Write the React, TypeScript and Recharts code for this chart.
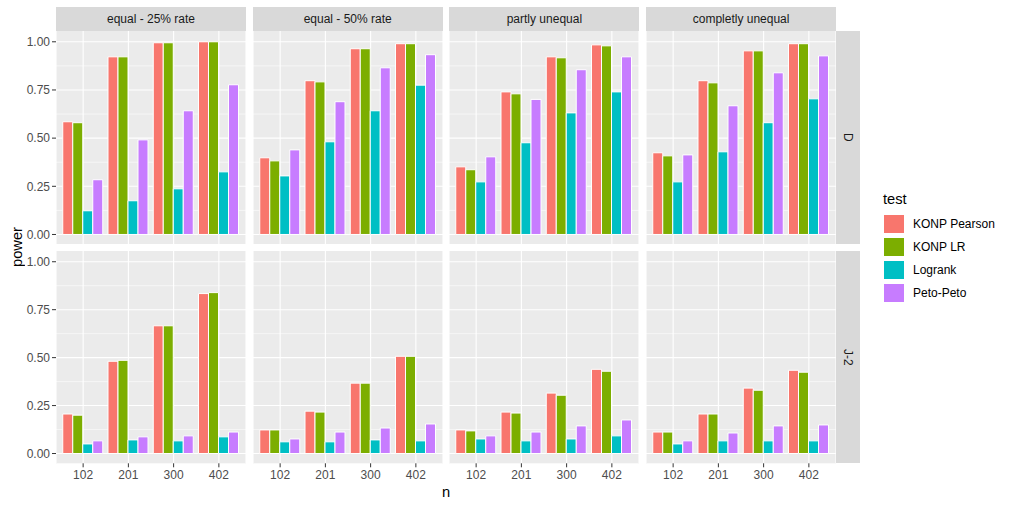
import { BarChart, Bar, XAxis, YAxis, CartesianGrid } from 'recharts';

const nValues = ['102', '201', '300', '402'];
const scenarios = ['equal - 25% rate', 'equal - 50% rate', 'partly unequal', 'completly unequal'];
const distributions = ['D', 'J-2'];
const tests = ['KONP Pearson', 'KONP LR', 'Logrank', 'Peto-Peto'];
const testColors = ['#F8766D', '#7CAE00', '#00BFC4', '#C77CFF'];
const majorTicks = [0, 0.25, 0.5, 0.75, 1];
const minorTicks = [0.125, 0.375, 0.625, 0.875];

// power by scenario (rows) and n (columns), distribution D
const pearsonD = [
  [0.585, 0.922, 0.995, 1.0],
  [0.398, 0.798, 0.964, 0.99],
  [0.351, 0.74, 0.922, 0.984],
  [0.424, 0.798, 0.953, 0.99],
];
const lrD = [
  [0.58, 0.922, 0.995, 1.0],
  [0.382, 0.792, 0.964, 0.99],
  [0.336, 0.73, 0.917, 0.979],
  [0.408, 0.787, 0.953, 0.99],
];
const logrankD = [
  [0.123, 0.175, 0.237, 0.325],
  [0.304, 0.481, 0.642, 0.775],
  [0.273, 0.476, 0.631, 0.74],
  [0.273, 0.429, 0.58, 0.704],
];
const petoD = [
  [0.284, 0.491, 0.642, 0.777],
  [0.439, 0.689, 0.865, 0.933],
  [0.403, 0.701, 0.855, 0.922],
  [0.413, 0.668, 0.839, 0.927],
];

// distribution J-2
const pearsonJ2 = [
  [0.206, 0.481, 0.666, 0.834],
  [0.123, 0.221, 0.367, 0.507],
  [0.123, 0.216, 0.315, 0.439],
  [0.112, 0.206, 0.341, 0.434],
];
const lrJ2 = [
  [0.2, 0.486, 0.666, 0.839],
  [0.123, 0.216, 0.367, 0.507],
  [0.118, 0.211, 0.304, 0.429],
  [0.112, 0.206, 0.33, 0.424],
];
const logrankJ2 = [
  [0.05, 0.071, 0.066, 0.087],
  [0.061, 0.061, 0.071, 0.066],
  [0.076, 0.066, 0.076, 0.092],
  [0.05, 0.066, 0.066, 0.066],
];
const petoJ2 = [
  [0.066, 0.087, 0.092, 0.112],
  [0.076, 0.112, 0.133, 0.154],
  [0.092, 0.112, 0.144, 0.175],
  [0.066, 0.107, 0.144, 0.149],
];

const seriesByRow = [
  [pearsonD, lrD, logrankD, petoD],
  [pearsonJ2, lrJ2, logrankJ2, petoJ2],
];

// layout
const PANEL_LEFT = 56;
const PANEL_STEP = 196.7;
const PANEL_W = 190;
const ROW_TOP = [31, 250.7];
const ROW_H = [213.3, 212.3];
const Y_DOMAIN: [number, number] = [-0.051, 1.056];
const STRIP_H = 24;
const Y_AXIS_W = 40;
const X_AXIS_H = 24;
const FONT = '"Liberation Sans", Arial, sans-serif';

function panelData(row: number, col: number) {
  return nValues.map((n, i) => {
    const d: Record<string, string | number> = { n };
    tests.forEach((t, k) => {
      d[t] = seriesByRow[row][k][col][i];
    });
    return d;
  });
}

function Panel({ row, col }: { row: number; col: number }) {
  const showY = col === 0;
  const showX = row === 1;
  const w = PANEL_W + (showY ? Y_AXIS_W : 0);
  const h = ROW_H[row] + (showX ? X_AXIS_H : 0);
  const left = PANEL_LEFT + col * PANEL_STEP - (showY ? Y_AXIS_W : 0);
  return (
    <div style={{ position: 'absolute', left, top: ROW_TOP[row] }}>
      <BarChart
        width={w}
        height={h}
        data={panelData(row, col)}
        margin={{ top: 0, right: 0, bottom: 0, left: 0 }}
        barCategoryGap="5%"
        barGap={0}
      >
        <CartesianGrid fill="#EBEBEB" stroke="#FFFFFF" strokeWidth={0.55} horizontalValues={minorTicks} vertical={false} />
        <CartesianGrid stroke="#FFFFFF" strokeWidth={1.1} horizontalValues={majorTicks} />
        <XAxis
          dataKey="n"
          type="category"
          hide={!showX}
          height={X_AXIS_H}
          padding={{ left: 4.5, right: 4.5 }}
          axisLine={false}
          tickLine={{ stroke: '#333333' }}
          tickSize={4}
          tickMargin={3}
          interval={0}
          tick={{ fill: '#4D4D4D', fontSize: 12 }}
        />
        <YAxis
          type="number"
          domain={Y_DOMAIN}
          allowDataOverflow
          ticks={majorTicks}
          interval={0}
          hide={!showY}
          width={Y_AXIS_W}
          axisLine={false}
          tickLine={{ stroke: '#333333' }}
          tickSize={4}
          tickMargin={2}
          tickFormatter={(v: number) => v.toFixed(2)}
          tick={{ fill: '#4D4D4D', fontSize: 12 }}
        />
        {tests.map((t, k) => (
          <Bar key={t} dataKey={t} fill={testColors[k]} stroke="#FFFFFF" strokeWidth={1} isAnimationActive={false} />
        ))}
      </BarChart>
    </div>
  );
}

export default function App() {
  return (
    <div
      style={{
        position: 'absolute',
        left: 0,
        top: 0,
        width: 1012,
        height: 509,
        background: '#FFFFFF',
        fontFamily: FONT,
      }}
    >
      {scenarios.map((s, col) => (
        <div
          key={s}
          style={{
            position: 'absolute',
            left: PANEL_LEFT + col * PANEL_STEP,
            top: ROW_TOP[0] - STRIP_H,
            width: PANEL_W,
            height: STRIP_H,
            background: '#D9D9D9',
            color: '#1A1A1A',
            fontSize: 12,
            lineHeight: `${STRIP_H}px`,
            textAlign: 'center',
          }}
        >
          {s}
        </div>
      ))}
      {distributions.map((d, row) => (
        <div
          key={d}
          style={{
            position: 'absolute',
            left: PANEL_LEFT + 3 * PANEL_STEP + PANEL_W,
            top: ROW_TOP[row],
            width: STRIP_H,
            height: ROW_H[row],
            background: '#D9D9D9',
            color: '#1A1A1A',
            fontSize: 12,
            display: 'flex',
            alignItems: 'center',
            justifyContent: 'center',
          }}
        >
          <span style={{ writingMode: 'vertical-rl' }}>{d}</span>
        </div>
      ))}
      {distributions.map((d, row) =>
        scenarios.map((s, col) => <Panel key={`${d}-${s}`} row={row} col={col} />)
      )}
      <div
        style={{
          position: 'absolute',
          left: 7,
          top: 200,
          width: 20,
          height: 94,
          display: 'flex',
          alignItems: 'center',
          justifyContent: 'center',
          fontSize: 14.7,
          color: '#000000',
        }}
      >
        <span style={{ writingMode: 'vertical-rl', transform: 'rotate(180deg)' }}>power</span>
      </div>
      <div
        style={{
          position: 'absolute',
          left: PANEL_LEFT,
          top: 484,
          width: 3 * PANEL_STEP + PANEL_W,
          textAlign: 'center',
          fontSize: 14.7,
          color: '#000000',
        }}
      >
        n
      </div>
      <div style={{ position: 'absolute', left: 883, top: 190 }}>
        <div style={{ fontSize: 14.7, color: '#000000', height: 22.5, lineHeight: '18px' }}>test</div>
        {tests.map((t, k) => (
          <div key={t} style={{ display: 'flex', alignItems: 'center', height: 23 }}>
            <div
              style={{
                width: 22,
                height: 20,
                background: testColors[k],
                boxSizing: 'border-box',
                border: '1px solid #FFFFFF',
              }}
            />
            <span style={{ marginLeft: 8, fontSize: 12, color: '#000000' }}>{t}</span>
          </div>
        ))}
      </div>
    </div>
  );
}
